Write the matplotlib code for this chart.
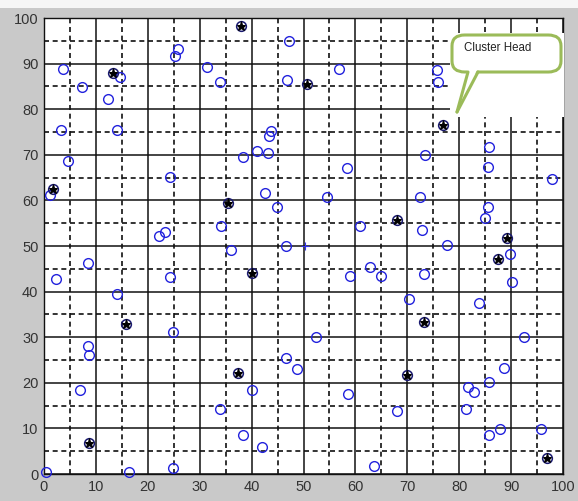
import matplotlib
matplotlib.use('Agg')
import matplotlib.pyplot as plt
from matplotlib.patches import Rectangle, FancyBboxPatch, Polygon
from matplotlib.lines import Line2D
from matplotlib.ticker import MultipleLocator

# ── Sensor nodes (field 100 x 100) ────────────────────────────────────────────
node_x = [3.7, 7.3, 12.4, 14.6, 3.2, 14.0, 4.7, 25.9, 25.2,
          47.3, 31.5, 33.9, 46.9, 56.8, 43.7, 43.4, 41.0, 43.2, 38.4, 58.3,
          75.8, 76.0, 73.4, 85.7, 85.5,
          1.2, 24.2, 22.1, 23.3, 8.5, 2.3, 24.3, 14.0, 24.9,
          42.6, 44.8, 54.5, 34.2, 60.8, 36.0, 46.6, 59.0, 62.8, 64.9,
          97.9, 72.4, 85.5, 85.0, 72.9, 77.7, 89.7, 73.3, 90.1, 70.3, 83.8, 92.4,
          52.4, 8.5, 8.7, 6.9, 0.4, 16.4, 24.8,
          46.6, 48.7, 40.1, 58.6, 34.0, 68.0, 38.4, 42.1, 63.6,
          88.7, 85.7, 81.6, 82.9, 81.4, 87.9, 85.7, 95.7]
node_y = [88.8, 84.8, 82.2, 87.0, 75.4, 75.4, 68.6, 93.1, 91.7,
          94.9, 89.3, 86.0, 86.3, 88.8, 75.3, 74.1, 70.9, 70.3, 69.6, 67.2,
          88.7, 86.0, 70.0, 71.8, 67.3,
          61.2, 65.2, 52.2, 53.0, 46.2, 42.7, 43.1, 39.4, 31.2,
          61.6, 58.6, 60.8, 54.4, 54.4, 49.1, 50.0, 43.5, 45.3, 43.5,
          64.6, 60.8, 58.5, 56.1, 53.5, 50.2, 48.2, 43.9, 42.0, 38.3, 37.4, 30.1,
          30.1, 28.1, 26.2, 18.4, 0.5, 0.5, 1.4,
          25.4, 23.0, 18.4, 17.5, 14.2, 13.8, 8.6, 6.0, 1.8,
          23.3, 20.2, 19.0, 17.9, 14.3, 9.9, 8.6, 9.8]

# cluster heads picked this round
ch_x = [13.2, 38.0, 50.7, 76.8, 1.7, 15.8, 35.5, 68.0,
        40.0, 89.3, 87.4, 73.3, 8.7, 37.4, 69.9, 97.0]
ch_y = [88.0, 98.2, 85.5, 76.5, 62.6, 33.0, 59.4, 55.7,
        44.0, 51.7, 47.1, 33.3, 6.9, 22.2, 21.7, 3.4]

# base station
sink_x = [50.2]
sink_y = [50.0]

fig = plt.figure(figsize=(5.78, 5.01), dpi=100)
fig.patch.set_facecolor('#c9c9c9')
# light strip along the top edge of the window
fig.patches.append(Rectangle((0, 1 - 8 / 501), 1, 8 / 501, transform=fig.transFigure,
                             facecolor='#f6f6f6', edgecolor='none', zorder=0))

ax = fig.add_axes([44 / 578, 1 - 474 / 501, 519 / 578, 456 / 501])
ax.set_facecolor('white')
ax.set_xlim(0, 100)
ax.set_ylim(0, 100)

ax.xaxis.set_major_locator(MultipleLocator(10))
ax.yaxis.set_major_locator(MultipleLocator(10))
ax.xaxis.set_minor_locator(MultipleLocator(5))
ax.yaxis.set_minor_locator(MultipleLocator(5))
ax.grid(which='major', color='#111111', linestyle='-', linewidth=1.1)
ax.grid(which='minor', color='#111111', linestyle=(0, (3.0, 2.2)), linewidth=1.2)
ax.set_axisbelow(True)
ax.tick_params(which='both', length=0, pad=4, labelsize=10.5, labelcolor='#333333')
for lbl in ax.get_xticklabels() + ax.get_yticklabels():
    lbl.set_fontfamily('Liberation Sans')
for sp in ax.spines.values():
    sp.set_color('#111111')
    sp.set_linewidth(1.0)

ax.plot(node_x, node_y, 'o', color='#2222dd', markerfacecolor='none',
        markersize=7, markeredgewidth=1.0, clip_on=False, zorder=3)
ax.plot(ch_x, ch_y, 'o', color='#1a1a70', markerfacecolor='none',
        markersize=7, markeredgewidth=1.1, clip_on=False, zorder=3)
ax.plot(ch_x, ch_y, '*', color='black', markersize=6.5, markeredgewidth=0.8,
        clip_on=False, zorder=4)
ax.plot(sink_x, sink_y, '+', color='#3333ee', markersize=6, markeredgewidth=0.8,
        zorder=3)

# callout pasted over the upper right corner
def px(x, y):
    return (x / 578, 1 - y / 501)

GREEN = '#9bbb59'
x0, y0 = px(450, 117)
x1, y1 = px(564, 33)
fig.patches.append(Rectangle((x0, y0), x1 - x0, y1 - y0, transform=fig.transFigure,
                             facecolor='white', edgecolor='none', zorder=5))
bx0, by0 = px(452, 72)
bx1, by1 = px(561, 35)
box = FancyBboxPatch((bx0, by0), bx1 - bx0, by1 - by0,
                     boxstyle='round,pad=0,rounding_size=0.022',
                     transform=fig.transFigure, facecolor='white',
                     edgecolor=GREEN, linewidth=2.2, zorder=6)
fig.patches.append(box)
# tail: white fill hides the box border at its base, then the two edges
fig.patches.append(Polygon([px(468, 68), px(457, 112), px(478, 68)], closed=True,
                           transform=fig.transFigure, facecolor='white',
                           edgecolor='none', zorder=7))
for (xa, ya) in [(468, 72), (478, 72)]:
    fig.lines.append(Line2D(*zip(px(xa, ya), px(457, 112)), transform=fig.transFigure,
                            color=GREEN, linewidth=2.2, solid_capstyle='round',
                            zorder=8))
fig.text(*px(464, 48), 'Cluster Head', ha='left', va='center', fontsize=8.3,
         family='Liberation Sans', color='#222222', zorder=9)

fig.savefig('out.png', dpi=100)
